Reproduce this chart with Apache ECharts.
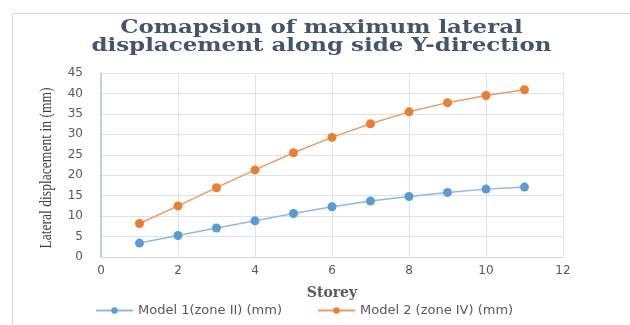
<!DOCTYPE html>
<html>
<head>
<meta charset="utf-8">
<script src="https://cdn.jsdelivr.net/npm/echarts@6/dist/echarts.min.js"></script>
<style>html,body{margin:0;padding:0;background:#fff}#c{width:630px;height:325px}</style>
</head>
<body>
<div id="c"></div>
<script>
var storeys = [1, 2, 3, 4, 5, 6, 7, 8, 9, 10, 11];
var model1 = [3.4, 5.25, 7.1, 8.85, 10.65, 12.3, 13.7, 14.8, 15.8, 16.6, 17.1];
var model2 = [8.2, 12.5, 16.95, 21.3, 25.5, 29.25, 32.6, 35.5, 37.75, 39.5, 40.9];
var seriesNames = ['Model 1(zone II) (mm)', 'Model 2 (zone IV) (mm)'];
var titleText = 'Comapsion of maximum lateral\ndisplacement along side Y-direction';
var yAxisName = 'Lateral displacement in (mm)';
var xAxisName = 'Storey';

var chart = echarts.init(document.getElementById('c'));
function pairs(vals){ return storeys.map(function(s,i){ return [s, vals[i]]; }); }
chart.setOption({
  animation: false,
  graphic: [{
    type: 'polyline',
    shape: { points: [[12.5, 325], [12.5, 13.5], [630, 13.5]] },
    style: { stroke: '#D9D9D9', lineWidth: 1, fill: null },
    silent: true
  }, {
    type: 'text',
    x: 321.5,
    y: 19,
    scaleX: 1.24,
    style: {
      text: titleText,
      fontFamily: 'DejaVu Serif',
      fontWeight: 'bold',
      fontSize: 18.5,
      lineHeight: 18,
      fill: '#44546A',
      align: 'center',
      verticalAlign: 'top'
    },
    silent: true
  }, {
    type: 'text',
    x: 46.5,
    y: 168,
    rotation: Math.PI / 2,
    scaleX: 0.8,
    style: {
      text: yAxisName,
      fontFamily: 'Liberation Serif',
      fontSize: 17,
      fill: '#404040',
      align: 'center',
      verticalAlign: 'middle'
    },
    silent: true
  }],
  legend: {
    left: 90,
    top: 299,
    itemWidth: 37,
    itemHeight: 8,
    itemGap: 35,
    textStyle: { fontFamily: 'DejaVu Sans', fontSize: 13, color: '#595959' },
    data: seriesNames
  },
  grid: { left: 101, right: 67, top: 73, bottom: 68 },
  xAxis: {
    type: 'value',
    min: 0, max: 12, interval: 2,
    name: xAxisName,
    nameLocation: 'middle',
    nameGap: 29,
    nameTextStyle: { fontFamily: 'DejaVu Serif', fontWeight: 'bold', fontSize: 14, color: '#595959' },
    axisLine: { show: true, lineStyle: { color: '#D9D9D9' } },
    axisTick: { show: false },
    axisLabel: { fontFamily: 'DejaVu Sans', fontSize: 12, color: '#595959', margin: 8 },
    splitLine: { show: true, lineStyle: { color: '#DDE3EA', width: 1 } }
  },
  yAxis: {
    type: 'value',
    min: 0, max: 45, interval: 5,
    axisLine: { show: true, lineStyle: { color: '#B4C2D6', width: 1.5 } },
    axisTick: { show: false },
    axisLabel: { fontFamily: 'DejaVu Sans', fontSize: 12, color: '#595959', margin: 18 },
    splitLine: { show: true, lineStyle: { color: '#DDE3EA', width: 1 } }
  },
  series: [{
    name: seriesNames[0],
    type: 'line',
    data: pairs(model1),
    symbol: 'circle',
    symbolSize: 9,
    itemStyle: { color: '#5B9BD5' },
    lineStyle: { color: '#8FB9E3', width: 1.5 }
  }, {
    name: seriesNames[1],
    type: 'line',
    data: pairs(model2),
    symbol: 'circle',
    symbolSize: 9,
    itemStyle: { color: '#ED7D31' },
    lineStyle: { color: '#F09A62', width: 1.5 }
  }]
});
</script>
</body>
</html>
